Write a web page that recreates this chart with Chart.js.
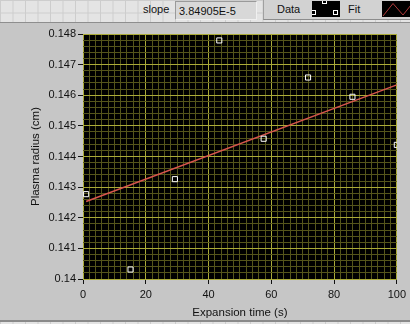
<!DOCTYPE html>
<html>
<head>
<meta charset="utf-8">
<script src="https://cdn.jsdelivr.net/npm/chart.js@4.4.0/dist/chart.umd.min.js"></script>
<style>
  html, body { margin: 0; padding: 0; }
  body {
    width: 410px; height: 324px; position: relative; overflow: hidden;
    font-family: "Liberation Sans", Arial, sans-serif; font-size: 11px; color: #111;
    background-color: #e4e4e4;
    background-image:
      linear-gradient(to right, #cdcdcd 1px, transparent 1px),
      linear-gradient(to bottom, #cdcdcd 1px, transparent 1px);
    background-size: 12.5px 12.5px;
    background-position: 0 0;
  }
  .panel {
    position: absolute; left: 0; top: 22px; width: 410px; height: 297px;
    background: #c6c6c6; border-top: 1px solid #8e8e8e; border-bottom: 2px solid #8a8a8a;
  }
  .lbl { position: absolute; line-height: 16px; white-space: nowrap; }
  .slopeBox {
    position: absolute; left: 175px; top: 1px; width: 77px; height: 17px;
    background: #d8d8d8; border-top: 1px solid #9a9a9a; border-left: 1px solid #9a9a9a;
    border-right: 1px solid #f0f0f0; border-bottom: 1px solid #f0f0f0;
    line-height: 19px; padding-left: 3px; box-sizing: content-box;
  }
  .legendBar {
    position: absolute; left: 263px; top: 0; width: 147px; height: 19px;
    background: #d2d2d2; border-left: 1px solid #a0a0a0; border-bottom: 1px solid #8c8c8c;
  }
  svg { position: absolute; }
  canvas { position: absolute; left: 0; top: 0; }
</style>
</head>
<body>
<div class="panel"></div>
<div class="lbl" style="left:143px; top:1px;">slope</div>
<div class="slopeBox" id="slopeBox"></div>
<div class="legendBar"></div>
<div class="lbl" style="left:277px; top:1px;">Data</div>
<svg style="left:312px; top:1px;" width="28" height="16">
  <rect x="0" y="0" width="28" height="16" fill="#000"/>
  <rect x="-0.5" y="9.5" width="4" height="4" fill="none" stroke="#fff"/>
  <rect x="10.5" y="-1.5" width="4" height="4" fill="none" stroke="#fff"/>
  <rect x="21.5" y="9.5" width="4" height="4" fill="none" stroke="#fff"/>
</svg>
<div class="lbl" style="left:348px; top:1px;">Fit</div>
<svg style="left:382px; top:1px;" width="28" height="16">
  <rect x="0" y="0" width="28" height="16" fill="#000"/>
  <polyline points="1,15 11,2.5 21,14 29,4" fill="none" stroke="#b03a3a" stroke-width="1"/>
</svg>
<canvas id="graph" width="410" height="324"></canvas>
<script>
// measured data (time in s, radius in cm)
const timeS = [1, 15.14, 29.29, 43.43, 57.57, 71.71, 85.86, 100];
const radiusCm = [0.14277, 0.14031, 0.14326, 0.14779, 0.14458, 0.14658, 0.14595, 0.14438];
// linear fit end points
const fitTime = [1, 100];
const fitRadius = [0.14253, 0.14634];
const slopeText = '3.84905E-5';
// axes
const xRange = [0, 100];
const yRange = [0.14, 0.148];
const xMajor = 20, xMinor = 2;
const yMajor = 0.001, yMinor = 0.0002;

document.getElementById('slopeBox').textContent = slopeText;

const MAJOR = '#aaaa38';
const MINOR = '#55551b';
const isMajor = (v, step) => Math.abs(v / step - Math.round(v / step)) < 1e-6;

// black plot background like the LabVIEW graph
const plotBg = {
  id: 'plotBg',
  beforeDraw(chart) {
    const { ctx, chartArea: a } = chart;
    ctx.save();
    ctx.fillStyle = '#000';
    ctx.fillRect(a.left, a.top, a.right - a.left, a.bottom - a.top);
    ctx.restore();
  }
};

const tickFont = { family: "'Liberation Sans', Arial, sans-serif", size: 11 };
const titleFont = { family: "'Liberation Sans', Arial, sans-serif", size: 11.5 };

new Chart(document.getElementById('graph'), {
  type: 'scatter',
  data: {
    datasets: [
      {
        label: 'Data',
        data: timeS.map((t, i) => ({ x: t, y: radiusCm[i] })),
        pointStyle: 'rect',
        pointRadius: 3.6,
        borderColor: '#ffffff',
        borderWidth: 1,
        backgroundColor: 'rgba(0,0,0,0)',
        clip: 0
      },
      {
        label: 'Fit',
        data: fitTime.map((t, i) => ({ x: t, y: fitRadius[i] })),
        showLine: true,
        pointRadius: 0,
        borderColor: '#d8564e',
        borderWidth: 1.5,
        clip: 0
      }
    ]
  },
  options: {
    responsive: false,
    animation: false,
    events: [],
    layout: { padding: { top: 34, right: 10, left: 0, bottom: 0 } },
    plugins: { legend: { display: false }, tooltip: { enabled: false } },
    scales: {
      x: {
        type: 'linear',
        min: xRange[0], max: xRange[1],
        afterFit: s => { s.height = 45; },
        border: { display: false },
        grid: {
          color: c => isMajor(c.tick.value, xMajor) ? MAJOR : MINOR,
          tickColor: c => isMajor(c.tick.value, xMajor) ? '#111' : 'rgba(0,0,0,0)',
          tickLength: 5,
          lineWidth: 1
        },
        ticks: {
          stepSize: xMinor,
          autoSkip: false,
          maxRotation: 0,
          padding: 4,
          color: '#111',
          font: tickFont,
          callback: v => isMajor(v, xMajor) ? String(v) : ''
        },
        title: {
          display: true, text: 'Expansion time (s)', color: '#111', font: titleFont,
          padding: { top: 0, bottom: 4 }
        }
      },
      y: {
        type: 'linear',
        min: yRange[0], max: yRange[1],
        afterFit: s => { s.width = 83; },
        border: { display: false },
        grid: {
          color: c => isMajor(c.tick.value, yMajor) ? MAJOR : MINOR,
          tickColor: c => isMajor(c.tick.value, yMajor) ? '#111' : 'rgba(0,0,0,0)',
          tickLength: 5,
          lineWidth: 1
        },
        ticks: {
          stepSize: yMinor,
          autoSkip: false,
          padding: 2,
          color: '#111',
          font: tickFont,
          callback: v => isMajor(v, yMajor) ? String(+v.toFixed(3)) : ''
        },
        title: {
          display: true, text: 'Plasma radius (cm)', color: '#111', font: titleFont,
          padding: { top: 29, bottom: 0 }
        }
      }
    }
  },
  plugins: [plotBg]
});
</script>
</body>
</html>
